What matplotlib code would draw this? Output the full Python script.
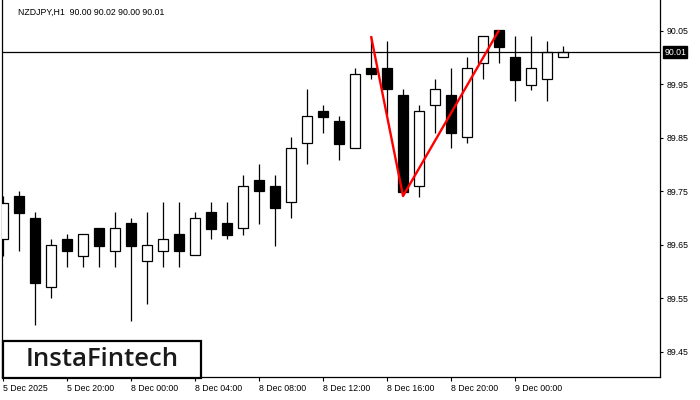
import matplotlib
matplotlib.use("Agg")
import matplotlib.pyplot as plt
from matplotlib.patches import Rectangle
import numpy as np

# ---- data ----
title_text = "NZDJPY,H1  90.00 90.02 90.00 90.01"
opens  = [89.661, 89.741, 89.699, 89.570, 89.660, 89.629, 89.681, 89.639, 89.690, 89.619,
          89.639, 89.670, 89.630, 89.711, 89.690, 89.681, 89.771, 89.759, 89.729, 89.840,
          89.900, 89.881, 89.830, 89.980, 89.980, 89.930, 89.759, 89.911, 89.930, 89.851,
          89.990, 90.051, 90.000, 89.949, 89.959, 90.000]
highs  = [89.741, 89.750, 89.711, 89.660, 89.670, 89.670, 89.681, 89.711, 89.699, 89.711,
          89.729, 89.729, 89.711, 89.729, 89.729, 89.780, 89.801, 89.780, 89.851, 89.941,
          89.911, 89.890, 89.980, 90.040, 90.031, 89.941, 89.911, 89.960, 89.980, 90.000,
          90.040, 90.051, 90.040, 90.040, 90.031, 90.021]
lows   = [89.629, 89.638, 89.499, 89.550, 89.609, 89.609, 89.609, 89.609, 89.508, 89.540,
          89.609, 89.609, 89.630, 89.660, 89.660, 89.669, 89.689, 89.648, 89.699, 89.801,
          89.859, 89.809, 89.830, 89.960, 89.892, 89.741, 89.740, 89.859, 89.830, 89.840,
          89.960, 89.990, 89.919, 89.939, 89.919, 90.000]
closes = [89.728, 89.709, 89.579, 89.649, 89.639, 89.670, 89.648, 89.681, 89.648, 89.649,
          89.660, 89.639, 89.699, 89.680, 89.669, 89.759, 89.750, 89.719, 89.830, 89.890,
          89.889, 89.839, 89.970, 89.970, 89.941, 89.749, 89.900, 89.941, 89.859, 89.980,
          90.040, 90.020, 89.958, 89.980, 90.010, 90.010]
current_price = 90.01
pattern_idx = [23, 25, 31]
pattern_price = [90.040, 89.741, 90.051]
xtick_idx = [0, 4, 8, 12, 16, 20, 24, 28, 32]
xtick_labels = ["5 Dec 2025", "5 Dec 20:00", "8 Dec 00:00", "8 Dec 04:00", "8 Dec 08:00",
                "8 Dec 12:00", "8 Dec 16:00", "8 Dec 20:00", "9 Dec 00:00"]
ytick_vals = [89.45, 89.55, 89.65, 89.75, 89.85, 89.95, 90.05]
logo_text = "InstaFintech"

# ---- figure ----
plt.rcParams['font.family'] = ['Liberation Sans', 'DejaVu Sans']
fig = plt.figure(figsize=(7, 4), dpi=100)
W, H = 700, 400
ax = fig.add_axes([2 / W, 23 / H, 658 / W, 377 / H])

idx = np.arange(len(opens))
o = np.array(opens); c = np.array(closes)
ax.vlines(idx, lows, highs, color='black', lw=0.9, zorder=2)
bottoms = np.minimum(o, c)
heights = np.maximum(np.abs(c - o), 0.0008)
colors = ['white' if cc >= oo else 'black' for oo, cc in zip(o, c)]
ax.bar(idx, heights, bottom=bottoms, width=0.62, color=colors, edgecolor='black',
       linewidth=0.9, zorder=3)

ax.axhline(current_price, color='black', lw=0.9, zorder=4)
ax.plot(pattern_idx, pattern_price, color='#ff0000', lw=1.7, zorder=5,
        solid_capstyle='butt')

ax.set_xlim(-0.0625, 41.06)
ax.set_ylim(89.4027, 90.1074)

ax.spines['top'].set_visible(False)
for s in ['left', 'right', 'bottom']:
    ax.spines[s].set_linewidth(0.9)

ax.yaxis.tick_right()
ax.set_yticks(ytick_vals)
ax.set_yticklabels([f"{v:.2f}" for v in ytick_vals], fontsize=6.3)
ax.tick_params(axis='y', direction='out', length=2.5, width=0.8, pad=2)

ax.set_xticks(xtick_idx)
ax.set_xticklabels(xtick_labels, fontsize=6.3)
for lbl in ax.get_xticklabels():
    lbl.set_ha('left')
ax.tick_params(axis='x', direction='out', length=3, width=0.8, pad=2)

# current price box
ax.annotate(f"{current_price:.2f}", xy=(1.0, current_price),
            xycoords=('axes fraction', 'data'), xytext=(3, 0),
            textcoords='offset points', ha='left', va='center', fontsize=6.3,
            color='white',
            bbox=dict(boxstyle='square,pad=0.15', fc='black', ec='black'),
            annotation_clip=False, zorder=6)

# title
fig.text(18 / W, 1 - 12 / H, title_text, fontsize=6.3, ha='left', va='center',
         color='black')

# logo box
fig.patches.append(Rectangle((3 / W, 1 - 378 / H), 198 / W, 37 / H,
                             transform=fig.transFigure, fc='white', ec='black',
                             lw=1.6, zorder=10))
fig.text(102 / W, 1 - 360 / H, logo_text, fontsize=18.5, ha='center', va='center',
         color='#1a1a1a', fontweight='semibold', family=['Open Sans', 'DejaVu Sans'],
         zorder=11)

fig.savefig("out.png", dpi=100)
